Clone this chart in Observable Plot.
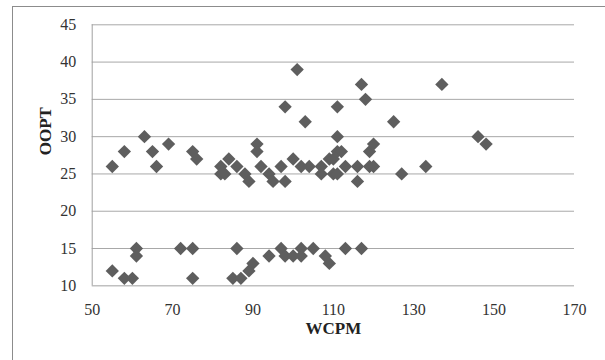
<!DOCTYPE html>
<html>
<head>
<meta charset="utf-8">
<script src="https://cdn.jsdelivr.net/npm/d3@7"></script>
<script src="https://cdn.jsdelivr.net/npm/@observablehq/plot@0.6"></script>
<style>
  html, body { margin: 0; padding: 0; background: #fff; overflow: hidden; }
  #wrap { position: relative; width: 605px; height: 360px; overflow: hidden; }
  #frame { position: absolute; left: 12px; top: 6px; width: 700px; height: 500px; border: 1px solid #8c8c8c; box-sizing: border-box; }
  #chart { position: absolute; left: 0; top: 0; }
</style>
</head>
<body>
<div id="wrap"><div id="frame"></div><div id="chart"></div></div>
<script>
const wcpm = [55,58,63,65,66,69,75,76,82,82,83,84,86,88,89,91,91,92,94,95,97,98,98,100,101,102,103,104,107,107,109,110,110,111,111,111,112,111,113,116,116,117,118,119,119,120,120,125,127,133,137,146,148,
  55,58,60,61,61,72,75,75,85,86,87,89,90,94,97,98,100,102,102,105,108,109,113,117];
const oopt = [26,28,30,28,26,29,28,27,26,25,25,27,26,25,24,29,28,26,25,24,26,24,34,27,39,26,32,26,26,25,27,27,25,34,30,28,28,25,26,26,24,37,35,28,26,29,26,32,25,26,37,30,29,
  12,11,11,15,14,15,15,11,11,15,11,12,13,14,15,14,14,15,14,15,14,13,15,15];
const xTicks = [50,70,90,110,130,150,170];
const yTicks = [10,15,20,25,30,35,40,45];
const xLabel = "WCPM";
const yLabel = "OOPT";

const data = wcpm.map((x, i) => ({x, y: oopt[i]}));
const font = "'Liberation Serif', 'DejaVu Serif', serif";

const chart = Plot.plot({
  width: 605,
  height: 360,
  marginTop: 24.3,
  marginRight: 31,
  marginBottom: 74.7,
  marginLeft: 91.7,
  style: {fontFamily: font, fontSize: "16px", color: "#333", background: "transparent"},
  x: {domain: [50, 170]},
  y: {domain: [10, 45]},
  marks: [
    Plot.gridY(yTicks.filter(d => d > 10), {stroke: "#a8a8a8", strokeOpacity: 1, strokeWidth: 1}),
    Plot.ruleY([10], {stroke: "#c0c0c0", strokeWidth: 1.5}),
    Plot.ruleX([50], {stroke: "#a0a0a0", strokeWidth: 1}),
    Plot.axisX({ticks: xTicks, tickSize: 0, tickPadding: 18, label: null, tickFormat: d => String(d), fill: "#333"}),
    Plot.axisY({ticks: yTicks, tickSize: 0, tickPadding: 16, label: null, tickFormat: d => String(d), fill: "#333"}),
    Plot.dot(data, {x: "x", y: "y", symbol: "diamond2", r: 6, fill: "#5e5e5e", stroke: "none"}),
    Plot.text([xLabel], {frameAnchor: "bottom", dy: 48, text: d => d, fontWeight: "bold", fontSize: 17, fill: "#222"}),
    Plot.text([yLabel], {frameAnchor: "left", dx: -47, rotate: -90, text: d => d, fontWeight: "bold", fontSize: 17, fill: "#222"})
  ]
});
document.getElementById("chart").appendChild(chart);
</script>
</body>
</html>
